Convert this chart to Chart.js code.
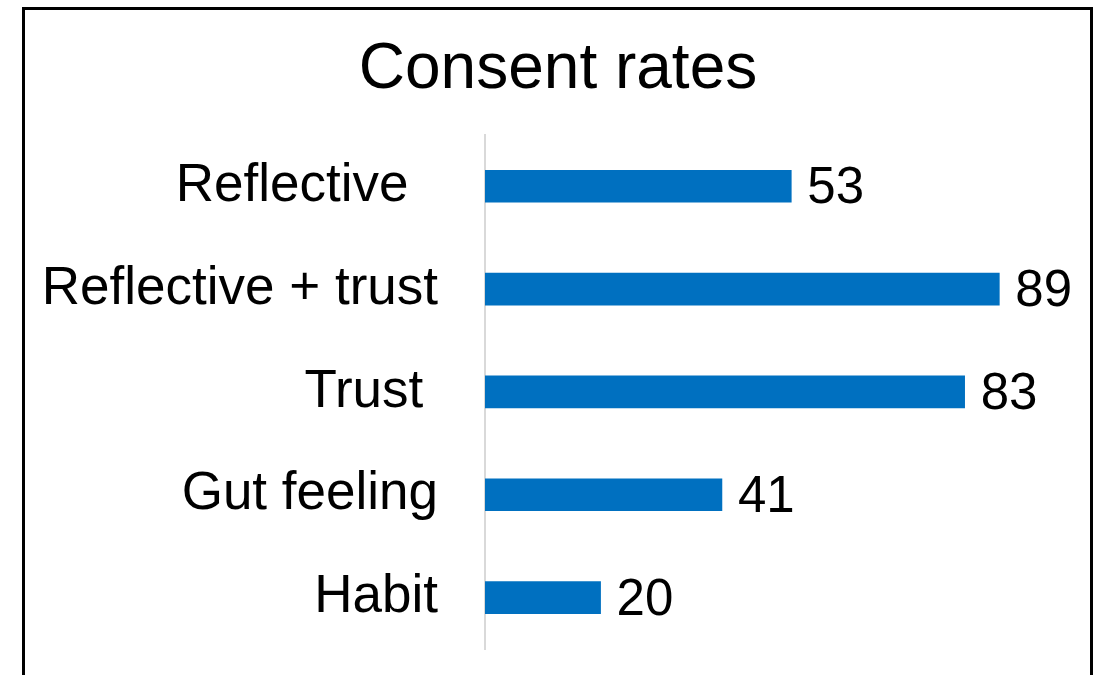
<!DOCTYPE html>
<html>
<head>
<meta charset="utf-8">
<script src="https://cdn.jsdelivr.net/npm/chart.js@4"></script>
<style>
  html, body { margin: 0; padding: 0; background: #fff; }
  #wrap { width: 1102px; height: 675px; }
</style>
</head>
<body>
<div id="wrap"><canvas id="consent-chart" width="1102" height="675"></canvas></div>
<script>
const categories = ['Reflective  ', 'Reflective + trust', 'Trust ', 'Gut feeling', 'Habit'];
const consentRates = [53, 89, 83, 41, 20];

const frameBox = {
    id: 'frameBox',
    beforeDraw(chart) {
        const ctx = chart.ctx;
        ctx.save();
        ctx.strokeStyle = '#000';
        ctx.lineWidth = 3;
        ctx.beginPath();
        ctx.moveTo(23.5, 700);
        ctx.lineTo(23.5, 8.5);
        ctx.lineTo(1091.5, 8.5);
        ctx.lineTo(1091.5, 700);
        ctx.stroke();
        ctx.restore();
    }
};

const valueLabels = {
    id: 'valueLabels',
    afterDatasetsDraw(chart) {
        const ctx = chart.ctx;
        const meta = chart.getDatasetMeta(0);
        ctx.save();
        ctx.fillStyle = '#000';
        ctx.font = '51px "Liberation Sans", Arial, sans-serif';
        ctx.textAlign = 'left';
        ctx.textBaseline = 'middle';
        meta.data.forEach((bar, i) => {
            ctx.fillText(chart.data.datasets[0].data[i], bar.x + 16, bar.y + 3);
        });
        ctx.restore();
    }
};

const ctx = document.getElementById('consent-chart').getContext('2d');
new Chart(ctx, {
    type: 'bar',
    data: {
        labels: categories,
        datasets: [{
            label: 'Consent rates',
            data: consentRates,
            backgroundColor: '#0070C0',
            borderWidth: 0,
            barThickness: 32
        }]
    },
    options: {
        indexAxis: 'y',
        responsive: false,
        animation: false,
        layout: { padding: { left: 30, right: 16, top: 0, bottom: 26 } },
        plugins: {
            legend: { display: false },
            tooltip: { enabled: false },
            title: {
                display: true,
                text: 'Consent rates',
                color: '#000',
                font: { family: '"Liberation Sans", Arial, sans-serif', size: 64, weight: 'normal' },
                padding: { top: 32, bottom: 26 }
            }
        },
        scales: {
            x: {
                display: false,
                min: 0,
                max: 104
            },
            y: {
                grid: { display: false, drawTicks: false },
                border: { display: true, color: '#d9d9d9', width: 2 },
                ticks: {
                    color: '#000',
                    padding: 47,
                    font: { family: '"Liberation Sans", Arial, sans-serif', size: 53 }
                },
                afterFit(scale) {
                    scale.width = 485 - 30;
                    scale.paddingTop = 0;
                    scale.paddingBottom = 0;
                }
            }
        }
    },
    plugins: [frameBox, valueLabels]
});
</script>
</body>
</html>
